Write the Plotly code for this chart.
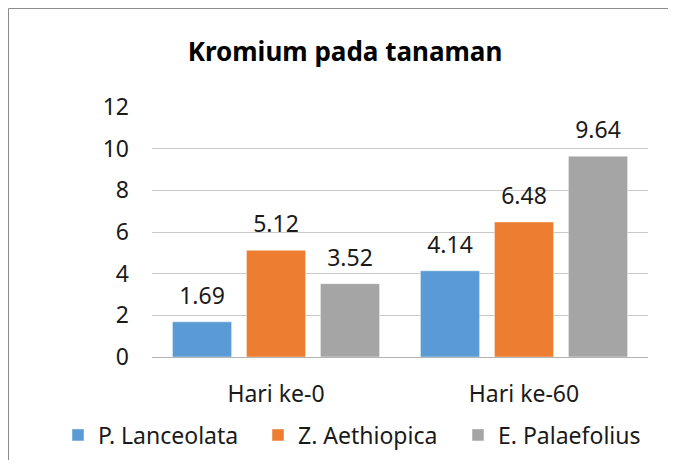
import plotly.graph_objects as go

categories = ["Hari ke-0", "Hari ke-60"]
series_names = ["P. Lanceolata", "Z. Aethiopica", "E. Palaefolius"]
p_lanceolata = [1.69, 4.14]
z_aethiopica = [5.12, 6.48]
e_palaefolius = [3.52, 9.64]
y_ticks = [0, 2, 4, 6, 8, 10, 12]

colors = ["#5B9BD5", "#ED7D31", "#A5A5A5"]
FONT = "Noto Sans"
TXT = "#1a1a1a"
BARGAP = 0.105

fig = go.Figure()
for i, (name, vals, col) in enumerate(zip(series_names, [p_lanceolata, z_aethiopica, e_palaefolius], colors)):
    fig.add_trace(go.Bar(
        x=categories, y=vals, name=name, marker_color=col,
        marker_line=dict(color="rgba(255,255,255,0.45)", width=1),
        offsetgroup=str(i),
    ))
for i, (name, vals) in enumerate(zip(series_names, [p_lanceolata, z_aethiopica, e_palaefolius])):
    fig.add_trace(go.Scatter(
        x=categories, y=vals, mode="markers+text", showlegend=False,
        offsetgroup=str(i), hoverinfo="skip",
        marker=dict(size=18, opacity=0),
        text=[f"{v:.2f}" for v in vals], textposition="top center",
        textfont=dict(family=FONT, size=23, color=TXT),
        cliponaxis=False,
    ))

# figure sits inside the page's 8px body margin
W, H = 660, 452
L, R, T, B = 144, 20, 99, 103
pw = W - L - R
ph = H - T - B

fig.update_layout(
    width=W, height=H,
    margin=dict(l=L, r=R, t=T, b=B, pad=0, autoexpand=False),
    paper_bgcolor="white", plot_bgcolor="white",
    barmode="group", bargap=BARGAP, bargroupgap=0.2,
    scattermode="group", scattergap=BARGAP,
    title=dict(text="<b>Kromium pada tanaman</b>", x=(337 - L) / pw, xref="paper",
               xanchor="center", y=1 - 44 / H, yanchor="middle",
               font=dict(family=FONT, size=26, color="#000000")),
    font=dict(family=FONT, size=23, color=TXT),
    showlegend=True,
    legend=dict(orientation="h", xref="paper", yref="paper",
                x=(50 - L) / pw, xanchor="left",
                y=-(427 - (T + ph)) / ph, yanchor="middle",
                entrywidth=155, entrywidthmode="pixels",
                font=dict(family=FONT, size=23, color=TXT),
                traceorder="normal"),
    xaxis=dict(showgrid=False, showline=False, ticks="", ticklabelstandoff=21,
               tickfont=dict(family=FONT, size=23, color=TXT)),
    yaxis=dict(range=[0, 12], tickvals=y_ticks, showgrid=True, gridcolor="#C9C9C9",
               gridwidth=1, zeroline=True, zerolinecolor="#B3B3B3", zerolinewidth=1,
               showline=False, ticks="", ticklabelstandoff=22,
               tickfont=dict(family=FONT, size=23, color=TXT)),
    shapes=[dict(type="rect", xref="paper", yref="paper",
                 x0=(0.5 - L) / pw, x1=(660.5 - L) / pw,
                 y0=(T + ph - 470) / ph, y1=(T + ph - 0.5) / ph,
                 line=dict(color="#8C8C8C", width=1), fillcolor="rgba(0,0,0,0)",
                 layer="below")],
)

fig.write_html("out.html")
